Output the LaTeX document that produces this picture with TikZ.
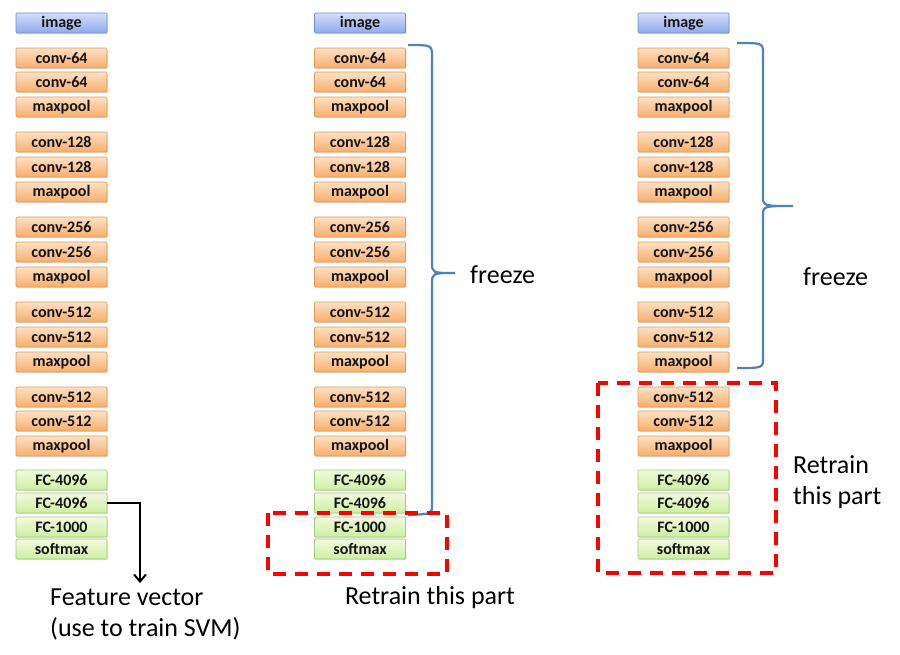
\documentclass[tikz,border=0pt]{standalone}
\usepackage{fontspec}
\setmainfont{Carlito}
\usetikzlibrary{arrows.meta,shadows}
\definecolor{bracecol}{HTML}{4F81BD}
\definecolor{orborder}{HTML}{E29A55}
\definecolor{ortop}{HTML}{FDE0C4}
\definecolor{orbot}{HTML}{F7AE6B}
\definecolor{grborder}{HTML}{A3CB7C}
\definecolor{grtop}{HTML}{F1FBDD}
\definecolor{grbot}{HTML}{CDEEA3}
\definecolor{blborder}{HTML}{6E8FD6}
\definecolor{bltop}{HTML}{D3DEF8}
\definecolor{blbot}{HTML}{8FAAEC}
\definecolor{txtcol}{HTML}{141414}
\tikzset{
  layer/.style={rectangle, rounded corners=1pt, minimum width=91pt, minimum height=20pt,
    inner sep=0pt, line width=0.7pt, text=txtcol,
    font=\bfseries\fontsize{16}{16}\selectfont,
    drop shadow={shadow xshift=0.8pt, shadow yshift=-1.2pt, opacity=0.22}},
  imgbox/.style={layer, draw=blborder, top color=bltop, bottom color=blbot},
  orbox/.style={layer, draw=orborder, top color=ortop, bottom color=orbot},
  grbox/.style={layer, draw=grborder, top color=grtop, bottom color=grbot},
  bracepath/.style={draw=bracecol, line width=2.2pt},
  retrain/.style={draw=red, line width=3.5pt, dash pattern=on 13pt off 9pt},
  label/.style={font=\fontsize{26}{31}\selectfont, text=black, inner sep=0pt, align=left},
}
\newcommand\vggcolumn[2]{%
  \node[imgbox] (#10) at (#2,23) {image};
  \foreach \n/\y/\t in {1/58/conv-64, 2/82/conv-64, 3/107/maxpool,
      4/142/conv-128, 5/167/conv-128, 6/192/maxpool,
      7/227/conv-256, 8/252/conv-256, 9/277/maxpool,
      10/312/conv-512, 11/337/conv-512, 12/362/maxpool,
      13/397/conv-512, 14/421/conv-512, 15/446/maxpool}
    {\node[orbox] (#1\n) at (#2,\y) {\t};}
  \foreach \n/\y/\t in {16/480/FC-4096, 17/503/FC-4096, 18/527/FC-1000, 19/549/softmax}
    {\node[grbox] (#1\n) at (#2,\y) {\t};}
}
\begin{document}
\begin{tikzpicture}[x=1pt,y=-1pt]
\useasboundingbox (0,0) rectangle (900,654);
\fill[white] (0,0) rectangle (900,654);

% columns
\vggcolumn{L}{61.5}
\vggcolumn{M}{360}
\vggcolumn{R}{683.5}

% left: feature vector arrow
\coordinate (fv) at (140,583);
\draw[line width=2pt, -{Straight Barb[length=7pt,width=12pt,line width=2pt]}]
  (L17.east) -| (fv);
\node[label, anchor=north west] (fvtext) at (50,589)
  {Feature vector\\(use to train SVM)};

% middle: freeze brace
\draw[bracepath] (408,45) .. controls (432,45) .. (432,57) -- (432,262)
  .. controls (432,273) .. (455,273) .. controls (432,273) .. (432,284)
  -- (432,505) .. controls (432,514) .. (408,515);
\node[label, anchor=west] (mfreeze) at (470,275) {freeze};
% middle: retrain box
\draw[retrain] (268,513) rectangle (447,574);
\node[label] (mretrain) at (430,598) {Retrain this part};

% right: freeze brace
\draw[bracepath] (737,43) .. controls (763,43) .. (763,54) -- (763,196)
  .. controls (763,206) .. (793,206) .. controls (763,206) .. (763,216)
  -- (763,358) .. controls (763,368) .. (737,368);
\node[label, anchor=west] (rfreeze) at (803,277) {freeze};
% right: retrain box
\draw[retrain] (598,383) rectangle (776,573);
\node[label, anchor=west] (rretrain) at (793,482) {Retrain\\this part};
\end{tikzpicture}
\end{document}
